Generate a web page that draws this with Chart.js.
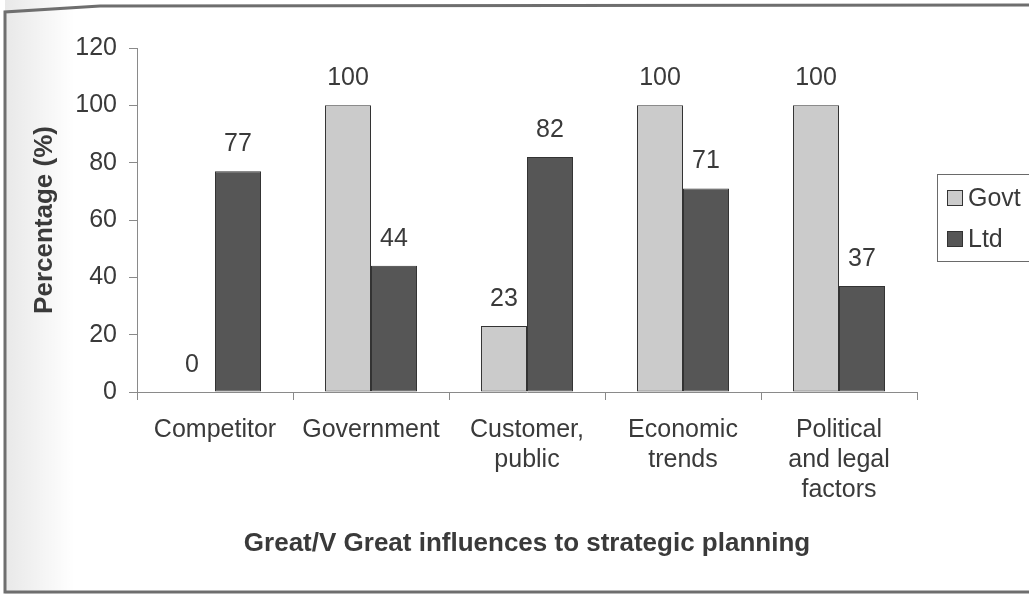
<!DOCTYPE html>
<html>
<head>
<meta charset="utf-8">
<script src="https://cdn.jsdelivr.net/npm/chart.js@4/dist/chart.umd.min.js"></script>
<style>
html,body{margin:0;padding:0;background:#fff;}
#wrap{width:1029px;height:594px;position:relative;overflow:hidden;}
canvas{display:block;}
</style>
</head>
<body>
<div id="wrap"><canvas id="c" width="1029" height="594"></canvas></div>
<script>
const categories = [['Competitor'], ['Government'], ['Customer,', 'public'], ['Economic', 'trends'], ['Political', 'and legal', 'factors']];
const seriesNames = ['Govt', 'Ltd'];
const govtValues = [0, 100, 23, 100, 100];
const ltdValues = [77, 44, 82, 71, 37];
const yTickValues = [0, 20, 40, 60, 80, 100, 120];
const xAxisTitle = 'Great/V Great influences to strategic planning';
const yAxisTitle = 'Percentage (%)';

const FONT = "'Liberation Sans', Arial, sans-serif";
const TEXT = '#3a3a3a';
const GOVT_FILL = '#cbcbcb';
const LTD_FILL = '#565656';
const BAR_BORDER = '#333333';
const AXIS = '#8a8a8a';

const framePlugin = {
  id: 'frame',
  beforeDraw(chart) {
    const ctx = chart.ctx;
    ctx.save();
    ctx.fillStyle = '#ffffff';
    ctx.fillRect(0, 0, chart.width, chart.height);
    const g = ctx.createLinearGradient(5, 0, 75, 0);
    g.addColorStop(0, 'rgba(0,0,0,0.09)');
    g.addColorStop(1, 'rgba(0,0,0,0)');
    ctx.fillStyle = g;
    ctx.fillRect(5, 0, 70, chart.height);
    ctx.strokeStyle = '#6e6e6e';
    ctx.lineWidth = 3;
    ctx.beginPath();
    ctx.moveTo(1040, 5);
    ctx.lineTo(100, 6);
    ctx.lineTo(5, 12);
    ctx.lineTo(5, 592);
    ctx.lineTo(1040, 592);
    ctx.stroke();
    ctx.restore();
  }
};

const valueLabelPlugin = {
  id: 'valueLabels',
  afterDatasetsDraw(chart) {
    const ctx = chart.ctx;
    ctx.save();
    ctx.font = '25px ' + FONT;
    ctx.fillStyle = TEXT;
    ctx.textAlign = 'center';
    ctx.textBaseline = 'alphabetic';
    chart.data.datasets.forEach((ds, di) => {
      const meta = chart.getDatasetMeta(di);
      meta.data.forEach((bar, i) => {
        ctx.fillText(String(ds.data[i]), bar.x, bar.y - 20);
      });
    });
    ctx.restore();
  }
};

const boxLegendPlugin = {
  id: 'boxLegend',
  afterDraw(chart) {
    const ctx = chart.ctx;
    ctx.save();
    ctx.strokeStyle = '#6a6a6a';
    ctx.lineWidth = 1;
    ctx.strokeRect(937.5, 174.5, 200, 87);
    const ys = [198, 239];
    ctx.font = '25px ' + FONT;
    ctx.textBaseline = 'middle';
    ctx.textAlign = 'left';
    chart.data.datasets.forEach((ds, i) => {
      const y = ys[i];
      ctx.fillStyle = ds.backgroundColor;
      ctx.fillRect(947, y - 8, 16, 16);
      ctx.strokeStyle = BAR_BORDER;
      ctx.strokeRect(947.5, y - 7.5, 15, 15);
      ctx.fillStyle = TEXT;
      ctx.fillText(ds.label, 968, y + 1);
    });
    ctx.restore();
  }
};

new Chart(document.getElementById('c'), {
  type: 'bar',
  data: {
    labels: categories,
    datasets: [
      { label: seriesNames[0], data: govtValues, backgroundColor: GOVT_FILL, borderColor: BAR_BORDER, borderWidth: 1, borderSkipped: false },
      { label: seriesNames[1], data: ltdValues, backgroundColor: LTD_FILL, borderColor: BAR_BORDER, borderWidth: 1, borderSkipped: false }
    ]
  },
  options: {
    responsive: false,
    animation: false,
    devicePixelRatio: 1,
    categoryPercentage: 0.59,
    barPercentage: 1.0,
    layout: { padding: { left: 0, right: 112, top: 48, bottom: 0 } },
    plugins: {
      legend: { display: false },
      tooltip: { enabled: false },
      title: { display: false }
    },
    scales: {
      x: {
        offset: true,
        grid: { display: true, drawOnChartArea: false, offset: true, tickLength: 8, color: AXIS },
        border: { color: AXIS, width: 1 },
        ticks: { font: { family: FONT, size: 25, lineHeight: 1.2 }, color: TEXT, padding: 15, maxRotation: 0, autoSkip: false },
        title: { display: true, text: xAxisTitle, color: TEXT, font: { family: FONT, size: 26, weight: 'bold', lineHeight: 1.2 }, padding: { top: 0, bottom: 35 } },
        afterFit(s) { s.height = 202; }
      },
      y: {
        min: 0,
        max: 120,
        afterBuildTicks(s) { s.ticks = yTickValues.map(v => ({ value: v })); },
        grid: { display: true, drawOnChartArea: false, tickLength: 8, color: AXIS },
        border: { color: AXIS, width: 1 },
        ticks: { font: { family: FONT, size: 25 }, color: TEXT, padding: 12 },
        title: { display: true, text: yAxisTitle, color: TEXT, font: { family: FONT, size: 26, weight: 'bold', lineHeight: 1.2 }, padding: { top: 29, bottom: 0 } },
        afterFit(s) { s.width = 137; }
      }
    }
  },
  plugins: [framePlugin, valueLabelPlugin, boxLegendPlugin]
});
</script>
</body>
</html>
